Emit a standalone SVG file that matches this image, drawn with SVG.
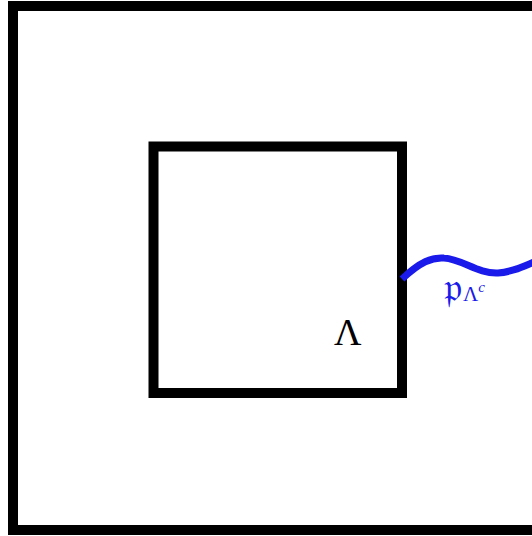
<svg xmlns="http://www.w3.org/2000/svg" width="532" height="536" viewBox="0 0 532 536">
<style>
.box{fill:none;stroke:#000;stroke-width:10}
.wave{fill:none;stroke:#1a1aeb;stroke-width:7;stroke-linecap:butt}
.lbl{font-family:"Liberation Serif",serif;fill:#000}
.blue{font-family:"DejaVu Serif","Liberation Serif",serif;fill:#1a1aeb}
</style>
<rect width="532" height="536" fill="#fff"/>
<g id="outer"><rect class="box" x="13" y="6" width="530" height="524"/></g>
<g id="inner"><rect class="box" x="153.5" y="146.5" width="248.5" height="246.5"/>
<text class="lbl" x="334" y="345" font-size="38">Λ</text></g>
<g id="connectors"><path class="wave" d="M402,279 C420,262 432,257 444,258 C462,259 478,274 498,273 C512,272 522,267 534,262"/></g>
<g id="label"><text class="blue" x="444" y="301" font-size="40">𝔭<tspan font-size="21" dx="1" style="font-family:'Liberation Serif',serif">Λ</tspan><tspan font-size="15" dy="-9" font-style="italic" style="font-family:'Liberation Serif',serif">c</tspan></text></g>
</svg>
